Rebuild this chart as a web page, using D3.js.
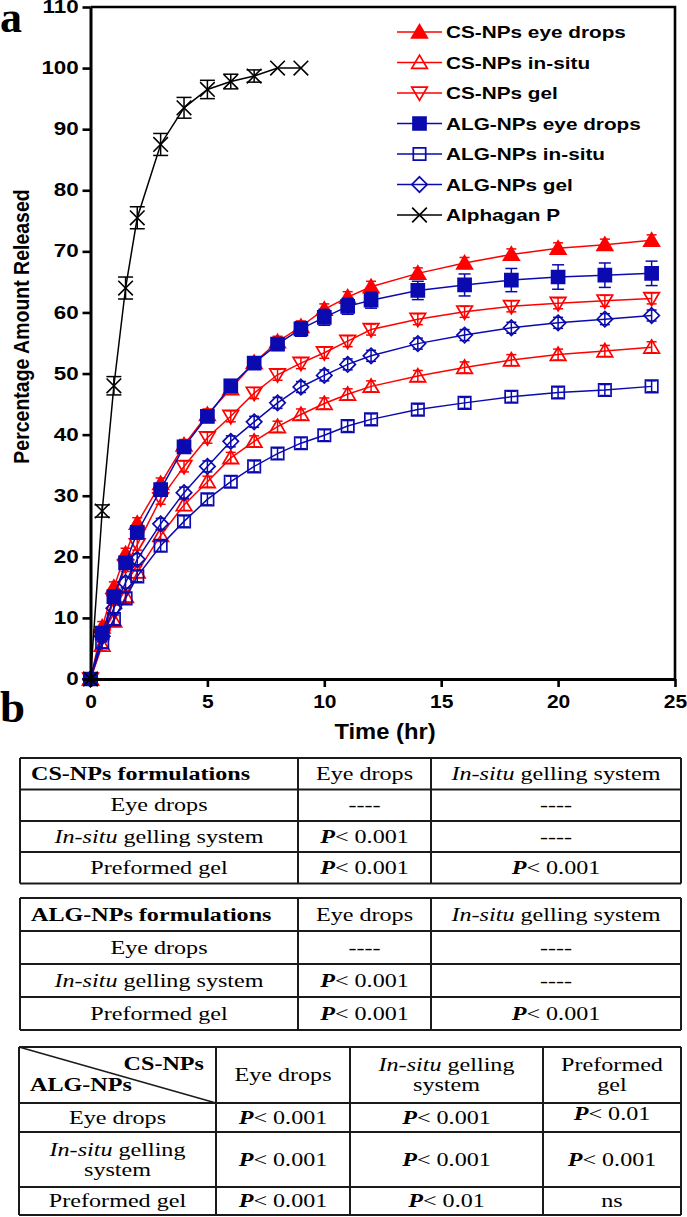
<!DOCTYPE html>
<html><head><meta charset="utf-8">
<script src="https://cdn.jsdelivr.net/npm/d3@7"></script>
<style>html,body{margin:0;padding:0;background:#fff;}svg{display:block;}</style>
</head><body>
<script>
// ---------- DATA ----------
const time = [0,0.5,1,1.5,2,3,4,5,6,7,8,9,10,11,12,14,16,18,20,22,24];
const csEyeDrops = [0,8.5,15,20.5,25.5,32,38.3,43.3,47.5,51.8,55.2,57.7,60.5,62.5,64.2,66.4,68.1,69.5,70.5,71.1,71.8];
const csInSitu   = [0,5.5,9.5,13.5,17.5,23.5,28.5,32.3,36.2,38.9,41.3,43.3,45.1,46.6,47.9,49.6,51,52.2,53.1,53.7,54.3];
const csGel      = [0,7,13,18.5,22,29.5,34.8,39.5,43,46.8,49.8,51.7,53.4,55.3,57.2,58.9,60.1,61,61.5,61.9,62.3];
const algEyeDrops= [0,7.5,13.5,19,24,31,38,43,48,51.7,54.8,57.3,59.2,61,62,63.6,64.5,65.3,65.8,66.1,66.4];
const algInSitu  = [0,6,9.8,13.2,16.8,21.8,25.8,29.4,32.3,34.8,36.9,38.6,39.9,41.4,42.5,44.1,45.2,46.2,46.9,47.3,47.9];
const algGel     = [0,7,11.6,15.8,19.6,25.4,30.5,34.8,38.9,42.1,45.2,47.8,49.7,51.5,52.9,54.9,56.3,57.5,58.3,58.9,59.5];
const algEyeErr  = [0,0.5,0.8,1,1,1,1,1,1,1,1,1.2,1.3,1.3,1.3,1.5,1.8,1.9,2,2,2];
const smallErr   = [0,0.9,0.9,0.9,0.9,0.9,0.9,0.9,0.9,0.9,0.9,0.9,0.9,0.9,0.9,0.9,0.9,0.9,0.9,0.9,0.9];
const alphaTime  = [0,0.5,1,1.5,2,3,4,5,6,7,8,9];
const alphagan   = [0,27.5,48,64,75.5,87.5,93.5,96.5,97.8,98.7,100,100];
const alphaErr   = [0,1,1.5,1.8,1.8,1.8,1.7,1.5,1.2,1,0,0];
const seriesNames = ["CS-NPs eye drops","CS-NPs in-situ","CS-NPs gel","ALG-NPs eye drops","ALG-NPs in-situ","ALG-NPs gel","Alphagan P"];
const xTicks = [0,5,10,15,20,25];
const yTicks = [0,10,20,30,40,50,60,70,80,90,100,110];
const xTitle = "Time (hr)";
const yTitle = "Percentage Amount Released";

// tables
const t1Header = ["CS-NPs formulations","Eye drops","_In-situ_ gelling system"];
const t1Rows = [["Eye drops","----","----"],["_In-situ_ gelling system","{P}< 0.001","----"],["Preformed gel","{P}< 0.001","{P}< 0.001"]];
const t2Header = ["ALG-NPs formulations","Eye drops","_In-situ_ gelling system"];
const t2Rows = [["Eye drops","----","----"],["_In-situ_ gelling system","{P}< 0.001","----"],["Preformed gel","{P}< 0.001","{P}< 0.001"]];
const t3Corner = ["CS-NPs","ALG-NPs"];
const t3Header = ["Eye drops","_In-situ_ gelling\nsystem","Preformed\ngel"];
const t3Rows = [["Eye drops","{P}< 0.001","{P}< 0.001","{P}< 0.01"],["_In-situ_ gelling\nsystem","{P}< 0.001","{P}< 0.001","{P}< 0.001"],["Preformed gel","{P}< 0.001","{P}< 0.01","ns"]];

// ---------- SETUP ----------
const W = 687, H = 1217;
const svg = d3.select("body").append("svg").attr("width", W).attr("height", H);
const SANS = "'Liberation Sans', Arial, Helvetica, sans-serif";
const SERIF = "'Liberation Serif', 'Times New Roman', Times, serif";
const RED = "#ff0000", BLUE = "#0a0ab0", BLACK = "#000";

function rich(textSel, str) {
  const parts = str.split(/(_[^_]+_|\{[^}]+\})/).filter(s => s.length);
  parts.forEach(p => {
    const t = textSel.append("tspan");
    if (p.startsWith("_")) t.attr("font-style","italic").text(p.slice(1,-1));
    else if (p.startsWith("{")) t.attr("font-style","italic").attr("font-weight","bold").text(p.slice(1,-1));
    else t.text(p);
  });
}
function label(g, x, y, str, o) {
  const t = g.append("text")
    .attr("transform", `translate(${x},${y}) scale(${o.sx||1},1)`)
    .attr("font-family", o.family || SANS)
    .attr("font-size", o.size)
    .attr("font-weight", o.weight || "normal")
    .attr("text-anchor", o.anchor || "start")
    .attr("fill", "#000");
  rich(t, str);
  return t;
}

// ---------- CHART ----------
const x = d3.scaleLinear().domain([0,25]).range([90.5, 675]);
const y = d3.scaleLinear().domain([0,110]).range([679, 7]);

const shapes = {
  triUp: s => `M0,${-s*0.95}L${s},${s*0.75}L${-s},${s*0.75}Z`,
  triDown: s => `M0,${s*0.95}L${s},${-s*0.75}L${-s},${-s*0.75}Z`,
  square: s => `M${-s},${-s}H${s}V${s}H${-s}Z`,
  diamond: s => `M0,${-s}L${s},0L0,${s}L${-s},0Z`,
  cross: s => `M${-s},${-s}L${s},${s}M${-s},${s}L${s},${-s}`
};

const series = [
  {name: seriesNames[0], t: time, v: csEyeDrops, e: smallErr, color: RED, shape: "triUp", size: 7.8, filled: true, cap: 10},
  {name: seriesNames[1], t: time, v: csInSitu, e: smallErr, color: RED, shape: "triUp", size: 7.8, filled: false, cap: 10},
  {name: seriesNames[2], t: time, v: csGel, e: smallErr, color: RED, shape: "triDown", size: 7.8, filled: false, cap: 10},
  {name: seriesNames[3], t: time, v: algEyeDrops, e: algEyeErr, color: BLUE, shape: "square", size: 6.5, filled: true, cap: 12},
  {name: seriesNames[4], t: time, v: algInSitu, e: smallErr, color: BLUE, shape: "square", size: 6.2, filled: false, cap: 10},
  {name: seriesNames[5], t: time, v: algGel, e: smallErr, color: BLUE, shape: "diamond", size: 7.7, filled: false, cap: 10},
  {name: seriesNames[6], t: alphaTime, v: alphagan, e: alphaErr, color: BLACK, shape: "cross", size: 7.3, filled: false, cap: 15}
];

const plot = svg.append("g");
const line = d3.line().x(d => x(d[0])).y(d => y(d[1]));
series.forEach(s => {
  const pts = s.t.map((t,i) => [t, s.v[i], s.e[i]]);
  const g = plot.append("g");
  g.append("path").attr("d", line(pts)).attr("fill","none").attr("stroke", s.color).attr("stroke-width", 1.5);
  pts.forEach(p => {
    if (p[2] > 0) {
      const eg = g.append("g").attr("stroke", s.color).attr("stroke-width", 1.5);
      eg.append("line").attr("x1", x(p[0])).attr("x2", x(p[0])).attr("y1", y(p[1]-p[2])).attr("y2", y(p[1]+p[2]));
      [p[1]-p[2], p[1]+p[2]].forEach(vv => eg.append("line")
        .attr("x1", x(p[0]) - s.cap/2).attr("x2", x(p[0]) + s.cap/2).attr("y1", y(vv)).attr("y2", y(vv)));
    }
    g.append("path").attr("d", shapes[s.shape](s.size))
      .attr("transform", `translate(${x(p[0])},${y(p[1])})`)
      .attr("fill", s.filled ? s.color : "none")
      .attr("stroke", s.color).attr("stroke-width", s.shape === "cross" ? 1.6 : 1.7);
  });
});

// axes
const yAxis = svg.append("g").attr("transform", "translate(90.5,0)")
  .call(d3.axisLeft(y).tickValues(yTicks).tickSize(8).tickSizeOuter(0).tickPadding(1.2));
const xAxis = svg.append("g").attr("transform", "translate(0,679)")
  .call(d3.axisBottom(x).tickValues(xTicks).tickSize(8).tickSizeOuter(0).tickPadding(9));
[yAxis, xAxis].forEach(a => {
  a.select(".domain").attr("stroke", "#000").attr("stroke-width", 3);
  a.selectAll(".tick line").attr("stroke", "#000").attr("stroke-width", 2.6);
  a.selectAll(".tick text").attr("font-family", SANS).attr("font-weight", "bold")
    .attr("font-size", 17.5).attr("fill", "#000");
});
yAxis.selectAll(".tick text").attr("transform", "scale(1.28,1)");
xAxis.selectAll(".tick text").attr("transform", "scale(1.2,1)");

// frame
svg.append("path").attr("d", `M${x(0)},${y(110)}H${x(25)}V${y(0)}`)
  .attr("fill","none").attr("stroke","#000").attr("stroke-width", 2.6);

// titles
svg.append("text").attr("transform", "translate(29,326.5) rotate(-90) scale(1,1.15)")
  .attr("text-anchor","middle").attr("font-family", SANS).attr("font-weight","bold")
  .attr("font-size", 19.5).text(yTitle);
label(svg, 385, 739, xTitle, {size: 22, weight: "bold", anchor: "middle", sx: 1.08});

// panel labels
label(svg, 0, 32, "a", {size: 44, weight: "bold", family: SERIF});
label(svg, 0, 722, "b", {size: 45, weight: "bold", family: SERIF});

// legend
const legY = [32, 62.5, 93, 123.5, 154, 184.5, 215];
const leg = svg.append("g");
series.forEach((s, i) => {
  const yy = legY[i];
  leg.append("line").attr("x1", 397).attr("x2", 442).attr("y1", yy).attr("y2", yy)
    .attr("stroke", s.color).attr("stroke-width", 1.5);
  leg.append("path").attr("d", shapes[s.shape](s.size)).attr("transform", `translate(419.5,${yy})`)
    .attr("fill", s.filled ? s.color : "none").attr("stroke", s.color).attr("stroke-width", 1.7);
  label(leg, 446, yy + 6, s.name, {size: 17.3, weight: "bold", sx: 1.2});
});

// ---------- TABLES ----------
const FS = 19, SX = 1.27;
function cellText(g, cx, cy, str, anchor, bold) {
  const lines = str.split("\n");
  const lh = 20;
  lines.forEach((ln, k) => {
    const yy = cy + 6 + (k - (lines.length - 1) / 2) * lh;
    label(g, cx, yy, ln, {size: FS, family: SERIF, anchor: anchor || "middle", sx: SX, weight: bold ? "bold" : "normal"});
  });
}
function gridLines(g, cols, rows) {
  const st = {stroke: "#1a1a1a", w: 2};
  rows.forEach(r => g.append("line").attr("x1", cols[0]).attr("x2", cols[cols.length-1]).attr("y1", r).attr("y2", r)
    .attr("stroke", st.stroke).attr("stroke-width", st.w));
  cols.forEach(c => g.append("line").attr("x1", c).attr("x2", c).attr("y1", rows[0]).attr("y2", rows[rows.length-1])
    .attr("stroke", st.stroke).attr("stroke-width", st.w));
}
function simpleTable(header, rows, cols, rowsY) {
  const g = svg.append("g");
  gridLines(g, cols, rowsY);
  const mid = i => (cols[i] + cols[i+1]) / 2;
  const rmid = j => (rowsY[j] + rowsY[j+1]) / 2;
  label(g, cols[0] + 11, rmid(0) + 6, header[0], {size: FS, family: SERIF, weight: "bold", sx: SX});
  cellText(g, mid(1), rmid(0), header[1]);
  cellText(g, mid(2), rmid(0), header[2]);
  rows.forEach((r, j) => r.forEach((c, i) => cellText(g, mid(i), rmid(j+1), c)));
}
simpleTable(t1Header, t1Rows, [20, 298, 431, 681], [758, 789.5, 821, 852, 883.5]);
simpleTable(t2Header, t2Rows, [20, 298, 431, 681], [898, 931, 964, 997, 1030]);

(function() {
  const cols = [19, 216, 350, 543, 681];
  const rowsY = [1047, 1103, 1132, 1187, 1215];
  const g = svg.append("g");
  gridLines(g, cols, rowsY);
  g.append("line").attr("x1", cols[0]).attr("y1", rowsY[0]).attr("x2", cols[1]).attr("y2", rowsY[1])
    .attr("stroke", "#1a1a1a").attr("stroke-width", 1.5);
  label(g, 204, 1070, t3Corner[0], {size: FS, family: SERIF, weight: "bold", anchor: "end", sx: SX});
  label(g, 30, 1091, t3Corner[1], {size: FS, family: SERIF, weight: "bold", sx: SX});
  const mid = i => (cols[i] + cols[i+1]) / 2;
  const rmid = j => (rowsY[j] + rowsY[j+1]) / 2;
  t3Header.forEach((h, i) => cellText(g, mid(i+1), rmid(0), h));
  t3Rows.forEach((r, j) => r.forEach((c, i) => {
    const raise = (j === 0 && i === 3) ? -4 : 0;
    cellText(g, mid(i), rmid(j+1) + raise, c);
  }));
})();
</script>
</body></html>
